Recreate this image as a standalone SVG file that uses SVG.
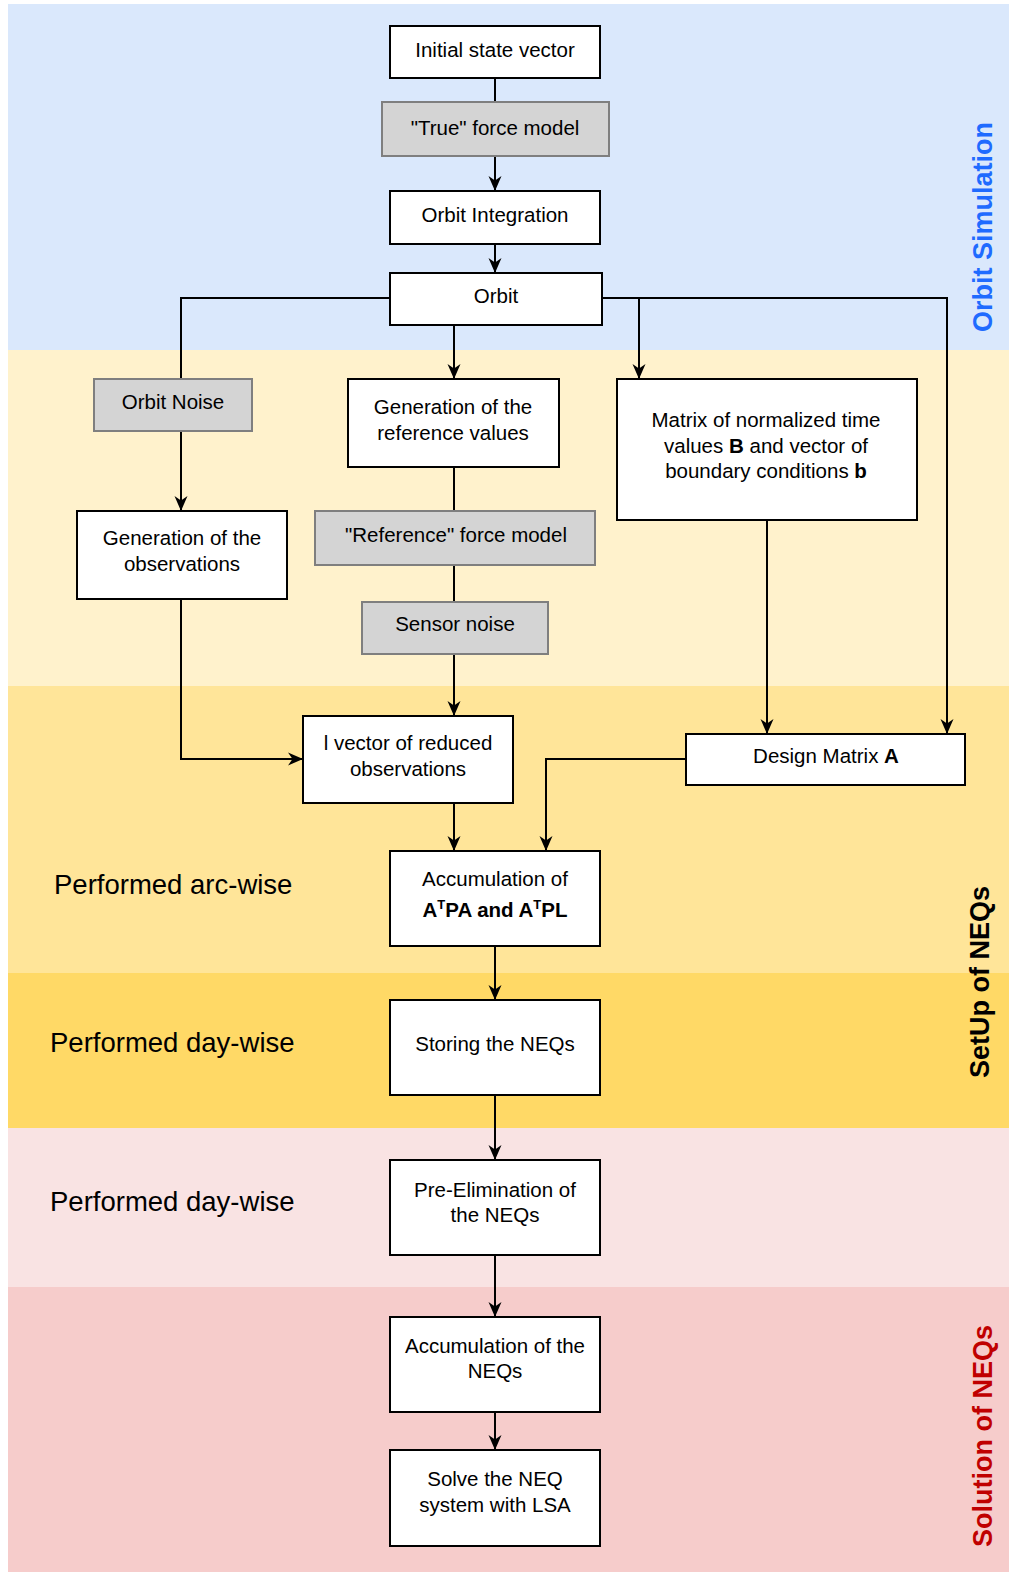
<svg xmlns="http://www.w3.org/2000/svg" width="1009" height="1573" viewBox="0 0 1009 1573">
<style>
.n{fill:#fff;stroke:#000;stroke-width:2}
.g{fill:#d4d4d4;stroke:#7f7f7f;stroke-width:2}
.t{font-family:"Liberation Sans",Arial,sans-serif;font-size:20.5px;fill:#000;text-anchor:middle}
.l{font-family:"Liberation Sans",Arial,sans-serif;font-size:27.5px;fill:#000}
.s{font-family:"Liberation Sans",Arial,sans-serif;font-size:27px;font-weight:bold;text-anchor:middle}
.c{fill:none;stroke:#000;stroke-width:2}
</style>
<defs>
<marker id="ah" markerUnits="userSpaceOnUse" markerWidth="16" markerHeight="16" viewBox="0 0 16 16" refX="15" refY="8" orient="auto">
<path d="M0,1.5 L15,8 L0,14.5 L4.5,8 Z" fill="#000"/>
</marker>
</defs>
<rect width="1009" height="1573" fill="#fff"/>
<g id="bands">
<rect x="8" y="4" width="1001" height="346" fill="#dae8fc"/>
<rect x="8" y="350" width="1001" height="336" fill="#fff2cc"/>
<rect x="8" y="686" width="1001" height="287" fill="#ffe599"/>
<rect x="8" y="973" width="1001" height="155" fill="#ffd966"/>
<rect x="8" y="1128" width="1001" height="159" fill="#f9e3e3"/>
<rect x="8" y="1287" width="1001" height="285" fill="#f6cccb"/>
</g>
<g id="labels">
<text class="s" fill="#1f6bff" transform="translate(992,227) rotate(-90)">Orbit Simulation</text>
<text class="s" fill="#000" transform="translate(989,982) rotate(-90)">SetUp of NEQs</text>
<text class="s" fill="#c00000" transform="translate(992,1436) rotate(-90)">Solution of NEQs</text>
<text class="l" x="54" y="894">Performed arc-wise</text>
<text class="l" x="50" y="1052">Performed day-wise</text>
<text class="l" x="50" y="1211">Performed day-wise</text>
</g>
<g id="connectors">
<path class="c" d="M495,78 V102"/>
<path class="c" d="M495,156 V191" marker-end="url(#ah)"/>
<path class="c" d="M495,244 V273" marker-end="url(#ah)"/>
<path class="c" d="M390,298 H181 V379"/>
<path class="c" d="M181,431 V511" marker-end="url(#ah)"/>
<path class="c" d="M454,325 V379" marker-end="url(#ah)"/>
<path class="c" d="M602,298 H947 V734" marker-end="url(#ah)"/>
<path class="c" d="M639,298 V379" marker-end="url(#ah)"/>
<path class="c" d="M454,467 V511"/>
<path class="c" d="M454,565 V602"/>
<path class="c" d="M454,654 V716" marker-end="url(#ah)"/>
<path class="c" d="M181,599 V759 H303" marker-end="url(#ah)"/>
<path class="c" d="M767,520 V734" marker-end="url(#ah)"/>
<path class="c" d="M686,759 H546 V851" marker-end="url(#ah)"/>
<path class="c" d="M454,803 V851" marker-end="url(#ah)"/>
<path class="c" d="M495,946 V1000" marker-end="url(#ah)"/>
<path class="c" d="M495,1095 V1160" marker-end="url(#ah)"/>
<path class="c" d="M495,1255 V1317" marker-end="url(#ah)"/>
<path class="c" d="M495,1412 V1450" marker-end="url(#ah)"/>
</g>
<g id="initial"><rect class="n" x="390" y="26" width="210" height="52"/><text class="t" x="495" y="57">Initial state vector</text></g>
<g id="trueforce"><rect class="g" x="382" y="102" width="227" height="54"/><text class="t" x="495" y="135">"True" force model</text></g>
<g id="orbitint"><rect class="n" x="390" y="191" width="210" height="53"/><text class="t" x="495" y="222">Orbit Integration</text></g>
<g id="orbit"><rect class="n" x="390" y="273" width="212" height="52"/><text class="t" x="496" y="303">Orbit</text></g>
<g id="orbitnoise"><rect class="g" x="94" y="379" width="158" height="52"/><text class="t" x="173" y="409">Orbit Noise</text></g>
<g id="genref"><rect class="n" x="348" y="379" width="211" height="88"/><text class="t" x="453" y="414">Generation of the</text><text class="t" x="453" y="440">reference values</text></g>
<g id="matrix"><rect class="n" x="617" y="379" width="300" height="141"/><text class="t" x="766" y="427">Matrix of normalized time</text><text class="t" x="766" y="453">values <tspan font-weight="bold">B</tspan> and vector of</text><text class="t" x="766" y="478">boundary conditions <tspan font-weight="bold">b</tspan></text></g>
<g id="genobs"><rect class="n" x="77" y="511" width="210" height="88"/><text class="t" x="182" y="545">Generation of the</text><text class="t" x="182" y="571">observations</text></g>
<g id="refforce"><rect class="g" x="315" y="511" width="280" height="54"/><text class="t" x="456" y="542">"Reference" force model</text></g>
<g id="sensornoise"><rect class="g" x="362" y="602" width="186" height="52"/><text class="t" x="455" y="631">Sensor noise</text></g>
<g id="lvector"><rect class="n" x="303" y="716" width="210" height="87"/><text class="t" x="408" y="750">l vector of reduced</text><text class="t" x="408" y="776">observations</text></g>
<g id="design"><rect class="n" x="686" y="734" width="279" height="51"/><text class="t" x="826" y="763">Design Matrix <tspan font-weight="bold">A</tspan></text></g>
<g id="accum1"><rect class="n" x="390" y="851" width="210" height="95"/><text class="t" x="495" y="886">Accumulation of</text><text class="t" x="495" y="917" font-weight="bold">A<tspan font-size="13" dy="-8">T</tspan><tspan dy="8">PA and A</tspan><tspan font-size="13" dy="-8">T</tspan><tspan dy="8">PL</tspan></text></g>
<g id="storing"><rect class="n" x="390" y="1000" width="210" height="95"/><text class="t" x="495" y="1051">Storing the NEQs</text></g>
<g id="preelim"><rect class="n" x="390" y="1160" width="210" height="95"/><text class="t" x="495" y="1197">Pre-Elimination of</text><text class="t" x="495" y="1222">the NEQs</text></g>
<g id="accum2"><rect class="n" x="390" y="1317" width="210" height="95"/><text class="t" x="495" y="1353">Accumulation of the</text><text class="t" x="495" y="1378">NEQs</text></g>
<g id="solve"><rect class="n" x="390" y="1450" width="210" height="96"/><text class="t" x="495" y="1486">Solve the NEQ</text><text class="t" x="495" y="1512">system with LSA</text></g>
</svg>
